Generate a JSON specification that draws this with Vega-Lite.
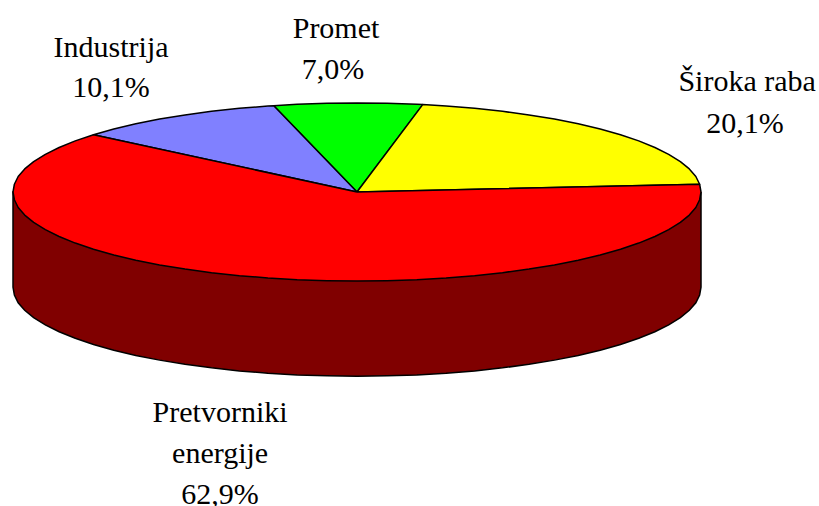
{"$schema":"https://vega.github.io/schema/vega-lite/v6.json","width":819,"height":506,"padding":0,"autosize":"none","background":"white","view":{"stroke":null},
"datasets":{
"wall":[{"i":0,"x":1,"y":0},{"i":1,"x":1,"y":-1.07},{"i":2,"x":0.996,"y":-1.157},{"i":3,"x":0.985,"y":-1.244},{"i":4,"x":0.966,"y":-1.329},{"i":5,"x":0.94,"y":-1.412},{"i":6,"x":0.906,"y":-1.493},{"i":7,"x":0.866,"y":-1.57},{"i":8,"x":0.819,"y":-1.644},{"i":9,"x":0.766,"y":-1.713},{"i":10,"x":0.707,"y":-1.777},{"i":11,"x":0.643,"y":-1.836},{"i":12,"x":0.574,"y":-1.889},{"i":13,"x":0.5,"y":-1.936},{"i":14,"x":0.423,"y":-1.976},{"i":15,"x":0.342,"y":-2.01},{"i":16,"x":0.259,"y":-2.036},{"i":17,"x":0.174,"y":-2.055},{"i":18,"x":0.087,"y":-2.066},{"i":19,"x":0,"y":-2.07},{"i":20,"x":-0.087,"y":-2.066},{"i":21,"x":-0.174,"y":-2.055},{"i":22,"x":-0.259,"y":-2.036},{"i":23,"x":-0.342,"y":-2.01},{"i":24,"x":-0.423,"y":-1.976},{"i":25,"x":-0.5,"y":-1.936},{"i":26,"x":-0.574,"y":-1.889},{"i":27,"x":-0.643,"y":-1.836},{"i":28,"x":-0.707,"y":-1.777},{"i":29,"x":-0.766,"y":-1.713},{"i":30,"x":-0.819,"y":-1.644},{"i":31,"x":-0.866,"y":-1.57},{"i":32,"x":-0.906,"y":-1.493},{"i":33,"x":-0.94,"y":-1.412},{"i":34,"x":-0.966,"y":-1.329},{"i":35,"x":-0.985,"y":-1.244},{"i":36,"x":-0.996,"y":-1.157},{"i":37,"x":-1,"y":-1.07},{"i":38,"x":-1,"y":0},{"i":39,"x":1,"y":0}],
"slices":[
{"s":"Promet","i":0,"x":0,"y":0},{"s":"Promet","i":1,"x":-0.242,"y":0.97},{"s":"Promet","i":2,"x":-0.174,"y":0.985},{"s":"Promet","i":3,"x":-0.087,"y":0.996},{"s":"Promet","i":4,"x":0,"y":1},{"s":"Promet","i":5,"x":0.087,"y":0.996},{"s":"Promet","i":6,"x":0.174,"y":0.985},{"s":"Promet","i":7,"x":0.191,"y":0.982},{"s":"Promet","i":8,"x":0,"y":0},
{"s":"Široka raba","i":0,"x":0,"y":0},{"s":"Široka raba","i":1,"x":0.191,"y":0.982},{"s":"Široka raba","i":2,"x":0.259,"y":0.966},{"s":"Široka raba","i":3,"x":0.342,"y":0.94},{"s":"Široka raba","i":4,"x":0.423,"y":0.906},{"s":"Široka raba","i":5,"x":0.5,"y":0.866},{"s":"Široka raba","i":6,"x":0.574,"y":0.819},{"s":"Široka raba","i":7,"x":0.643,"y":0.766},{"s":"Široka raba","i":8,"x":0.707,"y":0.707},{"s":"Široka raba","i":9,"x":0.766,"y":0.643},{"s":"Široka raba","i":10,"x":0.819,"y":0.574},{"s":"Široka raba","i":11,"x":0.866,"y":0.5},{"s":"Široka raba","i":12,"x":0.906,"y":0.423},{"s":"Široka raba","i":13,"x":0.94,"y":0.342},{"s":"Široka raba","i":14,"x":0.966,"y":0.259},{"s":"Široka raba","i":15,"x":0.985,"y":0.174},{"s":"Široka raba","i":16,"x":0.996,"y":0.087},{"s":"Široka raba","i":17,"x":0,"y":0},
{"s":"Industrija","i":0,"x":0,"y":0},{"s":"Industrija","i":1,"x":-0.766,"y":0.643},{"s":"Industrija","i":2,"x":-0.707,"y":0.707},{"s":"Industrija","i":3,"x":-0.643,"y":0.766},{"s":"Industrija","i":4,"x":-0.574,"y":0.819},{"s":"Industrija","i":5,"x":-0.5,"y":0.866},{"s":"Industrija","i":6,"x":-0.423,"y":0.906},{"s":"Industrija","i":7,"x":-0.342,"y":0.94},{"s":"Industrija","i":8,"x":-0.259,"y":0.966},{"s":"Industrija","i":9,"x":-0.242,"y":0.97},{"s":"Industrija","i":10,"x":0,"y":0},
{"s":"Pretvorniki energije","i":0,"x":0,"y":0},{"s":"Pretvorniki energije","i":1,"x":0.996,"y":0.087},{"s":"Pretvorniki energije","i":2,"x":1,"y":0},{"s":"Pretvorniki energije","i":3,"x":0.996,"y":-0.087},{"s":"Pretvorniki energije","i":4,"x":0.985,"y":-0.174},{"s":"Pretvorniki energije","i":5,"x":0.966,"y":-0.259},{"s":"Pretvorniki energije","i":6,"x":0.94,"y":-0.342},{"s":"Pretvorniki energije","i":7,"x":0.906,"y":-0.423},{"s":"Pretvorniki energije","i":8,"x":0.866,"y":-0.5},{"s":"Pretvorniki energije","i":9,"x":0.819,"y":-0.574},{"s":"Pretvorniki energije","i":10,"x":0.766,"y":-0.643},{"s":"Pretvorniki energije","i":11,"x":0.707,"y":-0.707},{"s":"Pretvorniki energije","i":12,"x":0.643,"y":-0.766},{"s":"Pretvorniki energije","i":13,"x":0.574,"y":-0.819},{"s":"Pretvorniki energije","i":14,"x":0.5,"y":-0.866},{"s":"Pretvorniki energije","i":15,"x":0.423,"y":-0.906},{"s":"Pretvorniki energije","i":16,"x":0.342,"y":-0.94},{"s":"Pretvorniki energije","i":17,"x":0.259,"y":-0.966},{"s":"Pretvorniki energije","i":18,"x":0.174,"y":-0.985},{"s":"Pretvorniki energije","i":19,"x":0.087,"y":-0.996},{"s":"Pretvorniki energije","i":20,"x":0,"y":-1},{"s":"Pretvorniki energije","i":21,"x":-0.087,"y":-0.996},{"s":"Pretvorniki energije","i":22,"x":-0.174,"y":-0.985},{"s":"Pretvorniki energije","i":23,"x":-0.259,"y":-0.966},{"s":"Pretvorniki energije","i":24,"x":-0.342,"y":-0.94},{"s":"Pretvorniki energije","i":25,"x":-0.423,"y":-0.906},{"s":"Pretvorniki energije","i":26,"x":-0.5,"y":-0.866},{"s":"Pretvorniki energije","i":27,"x":-0.574,"y":-0.819},{"s":"Pretvorniki energije","i":28,"x":-0.643,"y":-0.766},{"s":"Pretvorniki energije","i":29,"x":-0.707,"y":-0.707},{"s":"Pretvorniki energije","i":30,"x":-0.766,"y":-0.643},{"s":"Pretvorniki energije","i":31,"x":-0.819,"y":-0.574},{"s":"Pretvorniki energije","i":32,"x":-0.866,"y":-0.5},{"s":"Pretvorniki energije","i":33,"x":-0.906,"y":-0.423},{"s":"Pretvorniki energije","i":34,"x":-0.94,"y":-0.342},{"s":"Pretvorniki energije","i":35,"x":-0.966,"y":-0.259},{"s":"Pretvorniki energije","i":36,"x":-0.985,"y":-0.174},{"s":"Pretvorniki energije","i":37,"x":-0.996,"y":-0.087},{"s":"Pretvorniki energije","i":38,"x":-1,"y":0},{"s":"Pretvorniki energije","i":39,"x":-0.996,"y":0.087},{"s":"Pretvorniki energije","i":40,"x":-0.985,"y":0.174},{"s":"Pretvorniki energije","i":41,"x":-0.966,"y":0.259},{"s":"Pretvorniki energije","i":42,"x":-0.94,"y":0.342},{"s":"Pretvorniki energije","i":43,"x":-0.906,"y":0.423},{"s":"Pretvorniki energije","i":44,"x":-0.866,"y":0.5},{"s":"Pretvorniki energije","i":45,"x":-0.819,"y":0.574},{"s":"Pretvorniki energije","i":46,"x":-0.766,"y":0.643},{"s":"Pretvorniki energije","i":47,"x":0,"y":0}
],
"labels":[
{"t":"Promet","x":-0.061,"y":1.73},{"t":"7,0%","x":-0.07,"y":1.27},
{"t":"Industrija","x":-0.715,"y":1.517},{"t":"10,1%","x":-0.715,"y":1.067},
{"t":"Široka raba","x":1.134,"y":1.135},{"t":"20,1%","x":1.128,"y":0.663},
{"t":"Pretvorniki","x":-0.398,"y":-2.584},{"t":"energije","x":-0.398,"y":-3.045},{"t":"62,9%","x":-0.398,"y":-3.506}
]},
"encoding":{
"x":{"field":"x","type":"quantitative","axis":null,"scale":{"domain":[-1.0378,1.343],"nice":false,"zero":false}},
"y":{"field":"y","type":"quantitative","axis":null,"scale":{"domain":[-3.5281,2.1573],"nice":false,"zero":false}}
},
"layer":[
{"data":{"name":"wall"},"mark":{"type":"line","fill":"#800000","stroke":"black","strokeWidth":1.5},"encoding":{"order":{"field":"i","type":"quantitative"}}},
{"data":{"name":"slices"},"mark":{"type":"line","stroke":"black","strokeWidth":1.5,"strokeJoin":"round"},"encoding":{"order":{"field":"i","type":"quantitative"},"fill":{"field":"s","type":"nominal","legend":null,"scale":{"domain":["Promet","Široka raba","Industrija","Pretvorniki energije"],"range":["#00ff00","#ffff00","#8080ff","#ff0000"]}}}},
{"data":{"name":"labels"},"mark":{"type":"text","font":"Liberation Serif","fontSize":30,"color":"black","align":"center","baseline":"alphabetic"},"encoding":{"text":{"field":"t","type":"nominal"}}}
]}
